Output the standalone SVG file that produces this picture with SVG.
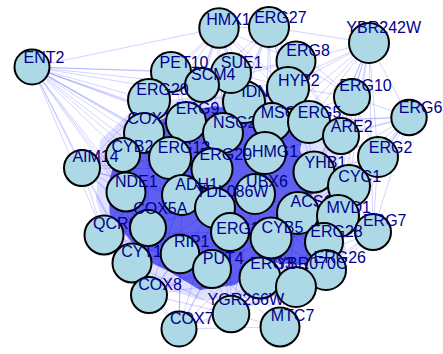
<svg xmlns="http://www.w3.org/2000/svg" width="443" height="354" viewBox="0 0 443 354">
<style>
.n{fill:#ADD8E6;stroke:#000;stroke-width:2}
.t{font-family:"Liberation Sans",Arial,sans-serif;font-size:16px;fill:#00008B;text-anchor:middle}
.e{fill:none;stroke:#0000FF;stroke-opacity:0.22;stroke-width:0.8}
</style>
<rect width="443" height="354" fill="#fff"/>
<g id="connectors">
<polygon points="100,140 140,104 200,96 260,92 318,104 340,150 336,200 346,250 318,288 260,298 200,300 150,284 112,250 96,200" fill="#0000FF" fill-opacity="0.12"/>
<polygon points="118,150 140,128 180,112 215,106 245,112 275,108 305,128 300,150 318,192 300,200 310,230 330,255 300,265 265,262 235,285 200,290 170,272 150,262 130,240 110,215 108,185" fill="#4848F0" fill-opacity="0.85"/>
<path class="e" d="M32 67L219 28M32 67L171 72M32 67L149 100M32 67L202 85M32 67L231 73M32 67L244 102M32 67L186 122M32 67L144 133M32 67L123 155M32 67L170 158M32 67L223 133M32 67L212 169M32 67L82 168M32 67L126 192M32 67L182 195M32 67L148 228M32 67L104 235M32 67L132 263M32 67L180 254M32 67L215 208M32 67L265 153M32 67L255 194"/>
<path class="e" d="M219 28L269 27M219 28L171 72M219 28L231 73M219 28L202 85M219 28L244 102M219 28L288 87M219 28L296 61M219 28L186 122M219 28L223 133M219 28L272 122M219 28L265 153M219 28L149 100M219 28L144 133M219 28L170 158M219 28L212 169M219 28L309 122"/>
<path class="e" d="M269 27L369 43M269 27L296 61M269 27L288 87M269 27L231 73M269 27L244 102M269 27L272 122M269 27L309 122M269 27L265 153M269 27L202 85M269 27L223 133M269 27L352 97M269 27L341 136M269 27L314 172M269 27L212 169"/>
<path class="e" d="M369 43L296 61M369 43L288 87M369 43L352 97M369 43L409 117M369 43L309 122M369 43L341 136M369 43L378 157M369 43L314 172M369 43L349 186M369 43L272 122M369 43L265 153M369 43L244 102M369 43L373 232M369 43L338 216M369 43L298 213"/>
<path class="e" d="M296 61L288 87M296 61L244 102M296 61L231 73M296 61L272 122M296 61L309 122M296 61L352 97M296 61L341 136M296 61L265 153M296 61L223 133M296 61L314 172M296 61L202 85"/>
<path class="e" d="M352 97L409 117M352 97L309 122M352 97L341 136M352 97L378 157M352 97L272 122M352 97L288 87M352 97L265 153M352 97L314 172M352 97L349 186M352 97L298 213M352 97L338 216"/>
<path class="e" d="M409 117L341 136M409 117L378 157M409 117L349 186M409 117L314 172M409 117L309 122M409 117L338 216M409 117L373 232M409 117L298 213M409 117L324 242M409 117L326 270M409 117L265 153M409 117L272 122"/>
<path class="e" d="M378 157L341 136M378 157L349 186M378 157L314 172M378 157L373 232M378 157L338 216M378 157L298 213M378 157L309 122M378 157L324 242M378 157L326 270M378 157L271 238"/>
<path class="e" d="M373 232L349 186M373 232L338 216M373 232L324 242M373 232L326 270M373 232L298 213M373 232L314 172M373 232L271 238M373 232L296 287M373 232L260 278M373 232L280 327M373 232L255 194"/>
<path class="e" d="M82 168L123 155M82 168L144 133M82 168L126 192M82 168L104 235M82 168L148 228M82 168L132 263M82 168L170 158M82 168L182 195M82 168L186 122M82 168L149 100M82 168L180 254M82 168L212 169M82 168L215 208"/>
<path class="e" d="M104 235L126 192M104 235L148 228M104 235L132 263M104 235L180 254M104 235L149 295M104 235L123 155M104 235L182 195M104 235L170 158M104 235L215 208M104 235L212 269M104 235L230 232"/>
<path class="e" d="M132 263L148 228M132 263L180 254M132 263L149 295M132 263L212 269M132 263L126 192M132 263L179 329M132 263L182 195M132 263L215 208M132 263L230 232M132 263L231 314"/>
<path class="e" d="M149 295L180 254M149 295L212 269M149 295L179 329M149 295L231 314M149 295L148 228M149 295L182 195M149 295L215 208M149 295L230 232M149 295L260 278M149 295L271 238"/>
<path class="e" d="M179 329L180 254M179 329L212 269M179 329L231 314M179 329L280 327M179 329L230 232M179 329L260 278M179 329L215 208M179 329L271 238M179 329L182 195M179 329L296 287"/>
<path class="e" d="M231 314L212 269M231 314L260 278M231 314L280 327M231 314L180 254M231 314L230 232M231 314L271 238M231 314L296 287M231 314L215 208M231 314L255 194M231 314L326 270M231 314L324 242"/>
<path class="e" d="M280 327L260 278M280 327L296 287M280 327L326 270M280 327L271 238M280 327L230 232M280 327L298 213M280 327L324 242M280 327L212 269M280 327L255 194M280 327L338 216"/>
<path class="e" d="M326 270L324 242M326 270L296 287M326 270L260 278M326 270L271 238M326 270L298 213M326 270L338 216M326 270L255 194M326 270L314 172"/>
<path class="e" d="M171 72L202 85M171 72L231 73M171 72L149 100M171 72L186 122M171 72L244 102M171 72L223 133M171 72L144 133M171 72L170 158M171 72L123 155M171 72L212 169"/>
<path class="e" d="M149 100L144 133M149 100L123 155M149 100L186 122M149 100L202 85M149 100L170 158M149 100L212 169M149 100L223 133M149 100L126 192M149 100L182 195M149 100L148 228"/>
<path class="e" d="M231 73L202 85M231 73L244 102M231 73L288 87M231 73L186 122M231 73L223 133M231 73L272 122M231 73L265 153M231 73L212 169"/>
</g>
<g id="ENT2"><circle class="n" cx="32" cy="67" r="17.5"/><text class="t" x="44" y="62.7">ENT2</text></g>
<g id="HMX1"><circle class="n" cx="219" cy="28" r="19.7"/><text class="t" x="228.5" y="25">HMX1</text></g>
<g id="ERG27"><circle class="n" cx="269" cy="27" r="20"/><text class="t" x="280.4" y="22.5">ERG27</text></g>
<g id="YBR242W"><circle class="n" cx="369" cy="43" r="20"/><text class="t" x="383.7" y="33.3">YBR242W</text></g>
<g id="ERG8"><circle class="n" cx="296" cy="61" r="19.5"/><text class="t" x="308" y="56">ERG8</text></g>
<g id="ERG10"><circle class="n" cx="352" cy="97" r="18"/><text class="t" x="365.5" y="91">ERG10</text></g>
<g id="ERG6"><circle class="n" cx="409" cy="117.5" r="17.7"/><text class="t" x="420.5" y="113.3">ERG6</text></g>
<g id="PET10"><circle class="n" cx="171" cy="72" r="20"/><text class="t" x="184" y="68.3">PET10</text></g>
<g id="IDN"><circle class="n" cx="244" cy="102" r="21"/><text class="t" x="255" y="96.7">IDN</text></g>
<g id="SUE1"><circle class="n" cx="231" cy="73" r="20"/><text class="t" x="241.7" y="68.3">SUE1</text></g>
<g id="SCM4"><circle class="n" cx="202" cy="85" r="17"/><text class="t" x="213.3" y="80">SCM4</text></g>
<g id="HYP2"><circle class="n" cx="288" cy="88" r="21"/><text class="t" x="298.8" y="86">HYP2</text></g>
<g id="ERG20"><circle class="n" cx="149" cy="100" r="21"/><text class="t" x="162.5" y="95">ERG20</text></g>
<g id="COX13"><circle class="n" cx="144" cy="133" r="20"/><text class="t" x="153.8" y="124">COX13</text></g>
<g id="ERG9"><circle class="n" cx="186" cy="122" r="20"/><text class="t" x="197.5" y="114">ERG9</text></g>
<g id="NSG2"><circle class="n" cx="223" cy="133" r="20"/><text class="t" x="234.7" y="128.3">NSG2</text></g>
<g id="MSC7"><circle class="n" cx="272" cy="122" r="19"/><text class="t" x="282.9" y="118.3">MSC7</text></g>
<g id="ERG5"><circle class="n" cx="309" cy="122" r="21"/><text class="t" x="319.5" y="118.3">ERG5</text></g>
<g id="ARE2"><circle class="n" cx="341" cy="136" r="18"/><text class="t" x="351.7" y="131.7">ARE2</text></g>
<g id="ERG2"><circle class="n" cx="378" cy="157" r="20"/><text class="t" x="390.5" y="152.7">ERG2</text></g>
<g id="CYB2"><circle class="n" cx="123" cy="155" r="17"/><text class="t" x="132.4" y="151.7">CYB2</text></g>
<g id="ERG12"><circle class="n" cx="170" cy="158" r="21"/><text class="t" x="184" y="153.3">ERG12</text></g>
<g id="HMG1"><circle class="n" cx="265" cy="153" r="21"/><text class="t" x="275" y="156.7">HMG1</text></g>
<g id="ERG29"><circle class="n" cx="212" cy="169" r="20.5"/><text class="t" x="225.8" y="160">ERG29</text></g>
<g id="YHB1"><circle class="n" cx="314" cy="172" r="20.5"/><text class="t" x="325.5" y="168.3">YHB1</text></g>
<g id="CYC1"><circle class="n" cx="349" cy="186" r="21"/><text class="t" x="359.7" y="181.7">CYC1</text></g>
<g id="AIM14"><circle class="n" cx="82" cy="168" r="18"/><text class="t" x="95.5" y="161.7">AIM14</text></g>
<g id="NDE1"><circle class="n" cx="126" cy="192" r="19.5"/><text class="t" x="136.3" y="187.3">NDE1</text></g>
<g id="ADH1"><circle class="n" cx="182" cy="195" r="20"/><text class="t" x="196.7" y="190">ADH1</text></g>
<g id="UBX6"><circle class="n" cx="255" cy="194" r="20"/><text class="t" x="267" y="186.7">UBX6</text></g>
<g id="YDL086W"><circle class="n" cx="215" cy="208" r="20"/><text class="t" x="232" y="196.7">YDL086W</text></g>
<g id="ACS1"><circle class="n" cx="298" cy="213" r="21"/><text class="t" x="311.5" y="206.7">ACS1</text></g>
<g id="MVD1"><circle class="n" cx="338" cy="216" r="21"/><text class="t" x="348.7" y="212.7">MVD1</text></g>
<g id="ERG7"><circle class="n" cx="373" cy="232" r="18"/><text class="t" x="384.7" y="226">ERG7</text></g>
<g id="QCR6"><circle class="n" cx="104" cy="235" r="19.5"/><text class="t" x="115.3" y="229.3">QCR6</text></g>
<g id="COX5A"><circle class="n" cx="148" cy="228" r="18"/><text class="t" x="160.3" y="214.3">COX5A</text></g>
<g id="ERG25"><circle class="n" cx="230" cy="232" r="19"/><text class="t" x="242.5" y="234">ERG25</text></g>
<g id="CYB5"><circle class="n" cx="271" cy="238" r="20.5"/><text class="t" x="282.5" y="233.3">CYB5</text></g>
<g id="ERG28"><circle class="n" cx="324" cy="242" r="19"/><text class="t" x="336.5" y="237.3">ERG28</text></g>
<g id="ERG26"><circle class="n" cx="326" cy="270" r="20"/><text class="t" x="339.7" y="262.7">ERG26</text></g>
<g id="RIP1"><circle class="n" cx="180" cy="254" r="19.3"/><text class="t" x="191.7" y="247.3">RIP1</text></g>
<g id="CYT1"><circle class="n" cx="132" cy="263" r="19.5"/><text class="t" x="141.7" y="257.3">CYT1</text></g>
<g id="PUT4"><circle class="n" cx="212" cy="269" r="19"/><text class="t" x="223.3" y="264">PUT4</text></g>
<g id="ERG3"><circle class="n" cx="260" cy="278" r="20.5"/><text class="t" x="272" y="269">ERG3</text></g>
<g id="YBR"><circle class="n" cx="296" cy="287" r="20"/><text class="t" x="312" y="269">YBR070C</text></g>
<g id="COX8"><circle class="n" cx="149" cy="295" r="18"/><text class="t" x="160" y="290">COX8</text></g>
<g id="YGR266W"><circle class="n" cx="231" cy="314" r="18.3"/><text class="t" x="245.8" y="305">YGR266W</text></g>
<g id="COX7"><circle class="n" cx="179" cy="329" r="17.5"/><text class="t" x="191.8" y="324">COX7</text></g>
<g id="MTC7"><circle class="n" cx="280" cy="327" r="19.5"/><text class="t" x="292.5" y="321">MTC7</text></g>
</svg>
